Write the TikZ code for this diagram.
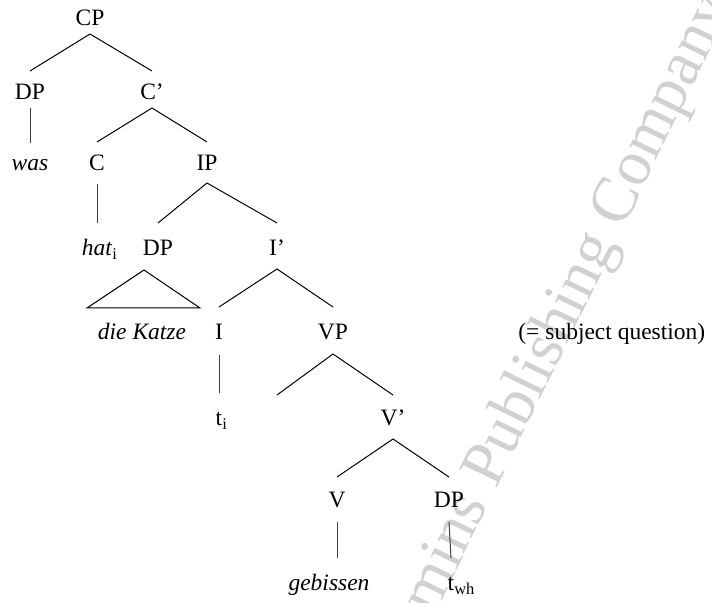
\documentclass[tikz,border=0pt]{standalone}
\usepackage{fontspec}
\setmainfont{Liberation Serif}
\usetikzlibrary{calc}
\begin{document}
\begin{tikzpicture}[x=0.5pt,y=-0.5pt,
  lab/.style={anchor=base,inner sep=0pt,font=\fontsize{11.75}{14}\selectfont},
  br/.style={line width=0.5pt,black},
  vr/.style={line width=0.5pt,black!75},
  wm/.style={text=black!18,font=\fontsize{32}{38}\selectfont,inner sep=0pt,rotate=64}]
\useasboundingbox (0,0) rectangle (712,603);
% watermark
\coordinate (wmP) at (496,490);
\node[wm,anchor=base west] (wm2) at (wmP) {Publishing Company};
\node[wm,anchor=base east] (wm1) at (wmP) {John Benjamins\hspace*{0.25em}};
% labels
\node[lab] (CP)   at (90,26)  {CP};
\node[lab] (DPa)  at (30,100) {DP};
\node[lab] (Cbar) at (152,100) {C’};
\node[lab] (was)  at (30,171) {\textit{was}};
\node[lab] (C)    at (97,171) {C};
\node[lab] (IP)   at (207,171) {IP};
\node[lab] (hat)  at (97,256) {\textit{hat}\rlap{\textsubscript{i}}};
\node[lab] (DPb)  at (158,256) {DP};
\node[lab] (Ibar) at (277,256) {I’};
\node[lab] (kat)  at (142,340) {\textit{die Katze}};
\node[lab] (I)    at (219,340) {I};
\node[lab] (VP)   at (333,340) {VP};
\node[lab, anchor=base west] (subj) at (518,340) {(= subject question)};
\node[lab] (ti)   at (219,426) {t\rlap{\textsubscript{i}}};
\node[lab] (Vbar) at (393,426) {V’};
\coordinate (vpspec) at (277,395);
\node[lab] (V)    at (337,508) {V};
\node[lab] (DPc)  at (449,508) {DP};
\node[lab] (geb)  at (329,591) {\textit{gebissen}};
\node[lab] (twh)  at (451,591) {t\rlap{\textsubscript{wh}}};
% branches
\draw[br] ($(CP.base)+(0,8)$) -- ($(DPa.base)+(0,-29)$);
\draw[br] ($(CP.base)+(0,8)$) -- ($(Cbar.base)+(0,-29)$);
\draw[br] ($(Cbar.base)+(0,8)$) -- ($(C.base)+(0,-29)$);
\draw[br] ($(Cbar.base)+(0,8)$) -- ($(IP.base)+(0,-29)$);
\draw[br] ($(IP.base)+(0,12)$) -- ($(DPb.base)+(0,-33)$);
\draw[br] ($(IP.base)+(0,12)$) -- ($(Ibar.base)+(0,-33)$);
\draw[br] ($(Ibar.base)+(0,13)$) -- ($(I.base)+(0,-33)$);
\draw[br] ($(Ibar.base)+(0,13)$) -- ($(VP.base)+(0,-33)$);
\draw[br] ($(VP.base)+(0,14)$) -- (vpspec);
\draw[br] ($(VP.base)+(0,14)$) -- ($(Vbar.base)+(0,-31)$);
\draw[br] ($(Vbar.base)+(0,13)$) -- ($(V.base)+(0,-31)$);
\draw[br] ($(Vbar.base)+(0,13)$) -- ($(DPc.base)+(0,-31)$);
% triangle
\draw[br] ($(DPb.base)+(-14,14)$) -- ($(kat.base)+(-55,-32)$) -- ($(kat.base)+(58,-32)$) -- cycle;
% unary lines
\draw[vr] ($(DPa.base)+(0,8)$) -- ($(was.base)+(0,-28)$);
\draw[vr] ($(C.base)+(0,13)$) -- ($(hat.base)+(0,-33)$);
\draw[vr] ($(I.base)+(0,15)$) -- ($(ti.base)+(0,-33)$);
\draw[vr] ($(V.base)+(0,14)$) -- ($(V.base |- geb.base)+(0,-33)$);
\draw[vr] ($(DPc.base)+(0,14)$) -- ($(twh.base)+(0,-33)$);
\end{tikzpicture}
\end{document}
